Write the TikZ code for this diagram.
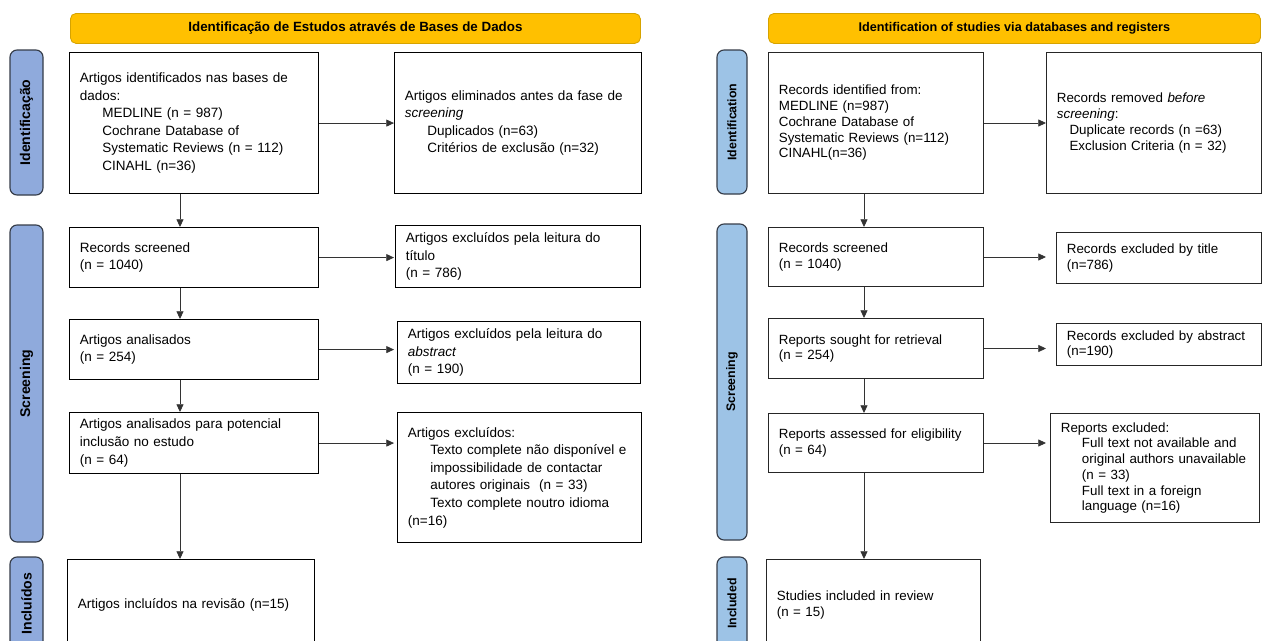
\documentclass[tikz,border=0pt]{standalone}
\usepackage{fontspec}
\setmainfont{Liberation Sans}
\usetikzlibrary{arrows.meta}

\definecolor{hdfill}{HTML}{FFC000}
\definecolor{hdline}{HTML}{D6A300}
\definecolor{stagel}{HTML}{8FAADC}
\definecolor{stager}{HTML}{9DC3E6}
\definecolor{stageline}{HTML}{353C48}

\newcommand{\indl}{\hspace*{16pt}}
\newcommand{\indr}{\hspace*{15pt}}

\begin{document}
\begin{tikzpicture}[x=0.025cm, y=-0.025cm,
    box/.style={draw, line width=0.8pt, anchor=north west, align=left, inner xsep=0.26cm, inner ysep=0pt, font=\fontsize{9.6}{12.5}\selectfont},
    boxr/.style={box, draw=black!85, line width=0.7pt, font=\fontsize{9.5}{11.2}\selectfont},
    boxsize/.style 2 args={minimum width=#1*0.025cm, text width={#1*0.025cm-0.52cm}, minimum height=#2*0.025cm},
    header/.style={draw=hdline, fill=hdfill, line width=0.6pt, rounded corners=4pt, anchor=north west, inner sep=0pt, minimum height=30*0.025cm, font=\bfseries\fontsize{9.5}{11}\selectfont},
    stage/.style={draw=stageline, line width=0.8pt, fill=stagel, rounded corners=5pt, rotate=90, inner sep=0pt, minimum height=33*0.025cm, font=\bfseries\fontsize{10}{12}\selectfont},
    stager/.style={stage, fill=stager, minimum height=30*0.025cm, font=\bfseries\fontsize{8.8}{11}\selectfont},
    flow/.style={-{Triangle[length=5.5pt,width=5pt]}, line width=0.6pt, black!80}]

  \useasboundingbox (0,0) rectangle (1264,640);
  \clip (0,0) rectangle (1264,640);

  % left panel
  \node[header, minimum width=570*0.025cm] (hdl) at (70,13) {Identificação de Estudos através de Bases de Dados};

  \node[stage, minimum width=145*0.025cm] (idl) at (26.5,122.5) {Identificação};
  \node[stage, minimum width=317*0.025cm] (scl) at (26.5,383.5) {Screening};
  \node[stage, minimum width=93*0.025cm] (inl) at (26.5,603.5) {Incluídos};

  \node[box, boxsize={249}{141}] (la1) at (69,52) {Artigos identificados nas bases de\\dados:\\\indl MEDLINE (n = 987)\\\indl Cochrane Database of\\\indl Systematic Reviews (n = 112)\\\indl CINAHL (n=36)};
  \node[box, boxsize={247}{141}] (la2) at (394,52) {Artigos eliminados antes da fase de\\\textit{screening}\\\indl Duplicados (n=63)\\\indl Critérios de exclusão (n=32)};
  \node[box, boxsize={249}{60}] (lb1) at (69,227) {Records screened\\(n = 1040)};
  \node[box, boxsize={245}{62}] (lb2) at (395,225) {Artigos excluídos pela leitura do\\título\\(n = 786)};
  \node[box, boxsize={249}{60}] (lc1) at (69,319) {Artigos analisados\\(n = 254)};
  \node[box, boxsize={243}{62}] (lc2) at (397,321) {Artigos excluídos pela leitura do\\\textit{abstract}\\(n = 190)};
  \node[box, boxsize={249}{61}] (ld1) at (69,412) {Artigos analisados para potencial\\inclusão no estudo\\(n = 64)};
  \node[box, boxsize={244}{130}] (ld2) at (397,412) {Artigos excluídos:\\\indl Texto complete não disponível e\\\indl impossibilidade de contactar\\\indl autores originais\ \ (n = 33)\\\indl Texto complete noutro idioma\\(n=16)};
  \node[box, boxsize={247}{91}] (le1) at (67,559) {Artigos incluídos na revisão (n=15)};

  \coordinate (spinel) at (180,0);
  \draw[flow] (la1.south -| spinel) -- (lb1.north -| spinel);
  \draw[flow] (lb1.south -| spinel) -- (lc1.north -| spinel);
  \draw[flow] (lc1.south -| spinel) -- (ld1.north -| spinel);
  \draw[flow] (ld1.south -| spinel) -- (le1.north -| spinel);

  \draw[flow] (la1.east) -- (la1.east -| la2.west);
  \draw[flow] (lb1.east) -- (lb1.east -| la2.west);
  \draw[flow] (lc1.east) -- (lc1.east -| la2.west);
  \draw[flow] (ld1.east) -- (ld1.east -| la2.west);

  % right panel
  \node[header, minimum width=492*0.025cm, font=\bfseries\fontsize{9}{11}\selectfont] (hdr) at (768,13) {Identification of studies via databases and registers};

  \node[stager, minimum width=144*0.025cm] (idr) at (732,122) {Identification};
  \node[stager, minimum width=316*0.025cm] (scr) at (732,382) {Screening};
  \node[stager, minimum width=93*0.025cm] (inr) at (732,603.5) {Included};

  \node[boxr, boxsize={215}{141}] (ra1) at (768,52) {Records identified from:\\MEDLINE (n=987)\\Cochrane Database of\\Systematic Reviews (n=112)\\CINAHL(n=36)};
  \node[boxr, boxsize={215}{141}] (ra2) at (1046,52) {Records removed \textit{before}\\\textit{screening}:\\\hspace*{9pt}Duplicate records (n =63)\\\hspace*{9pt}Exclusion Criteria (n = 32)};
  \node[boxr, boxsize={215}{59}] (rb1) at (768,227) {Records screened\\(n = 1040)};
  \node[boxr, boxsize={205}{51}] (rb2) at (1056,232) {Records excluded by title\\(n=786)};
  \node[boxr, boxsize={215}{60}] (rc1) at (768,318) {Reports sought for retrieval\\(n = 254)};
  \node[boxr, boxsize={205}{42}] (rc2) at (1056,323) {Records excluded by abstract\\(n=190)};
  \node[boxr, boxsize={215}{59}] (rd1) at (768,413) {Reports assessed for eligibility\\(n = 64)};
  \node[boxr, boxsize={209}{109}] (rd2) at (1050,413) {Reports excluded:\\\indr Full text not available and\\\indr original authors unavailable\\\indr (n = 33)\\\indr Full text in a foreign\\\indr language (n=16)};
  \node[boxr, boxsize={214}{91}] (re1) at (766,559) {Studies included in review\\(n = 15)};

  \coordinate (spiner) at (864,0);
  \draw[flow] (ra1.south -| spiner) -- (rb1.north -| spiner);
  \draw[flow] (rb1.south -| spiner) -- (rc1.north -| spiner);
  \draw[flow] (rc1.south -| spiner) -- (rd1.north -| spiner);
  \draw[flow] (rd1.south -| spiner) -- (re1.north -| spiner);

  \draw[flow] (ra1.east) -- (ra1.east -| ra2.west);
  \draw[flow] (rb1.east) -- (rb1.east -| ra2.west);
  \draw[flow] (rc1.east) -- (rc1.east -| ra2.west);
  \draw[flow] (rd1.east) -- (rd1.east -| ra2.west);
\end{tikzpicture}
\end{document}
